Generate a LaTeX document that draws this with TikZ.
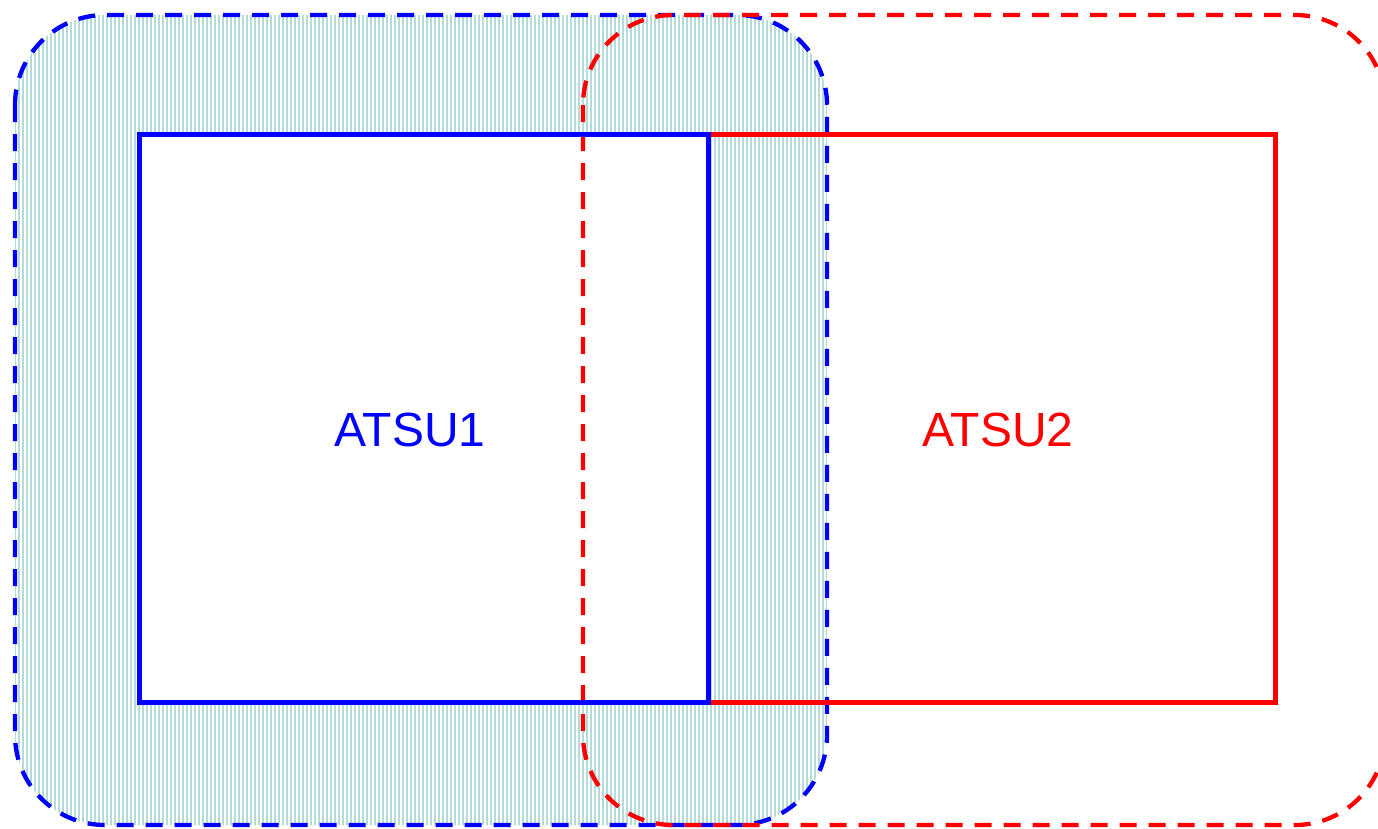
\documentclass[tikz,border=0pt]{standalone}
\usepackage{fontspec}
\setmainfont{Liberation Sans}
\definecolor{hatch}{HTML}{B4DADA}
\definecolor{myblue}{HTML}{0000FF}
\definecolor{myred}{HTML}{FF0000}
\tikzset{
  zone/.style={line width=4.3pt, dash pattern=on 17pt off 12pt, rounded corners=90pt},
  unitbox/.style={line width=5pt, outer sep=0pt},
  label/.style={font=\fontsize{48}{48}\selectfont, inner sep=0pt}
}
\begin{document}
\begin{tikzpicture}[x=1pt,y=-1pt]
\useasboundingbox (0,0) rectangle (1378,828);
\clip (0,0) rectangle (1378,828);
\fill[white] (0,0) rectangle (1378,828);
% hatch
\begin{scope}
  \clip[rounded corners=90pt] (15,15) rectangle (827,825);
  \foreach \x in {15,19,...,830} {
    \draw[hatch, line width=1.2pt] (\x,0) -- (\x,828);
  }
\end{scope}
\fill[white] (139,134) rectangle (708,702);
% zones
\draw[zone, myblue] (15,15) rectangle (827,825);
\draw[zone, myred] (583,15) rectangle (1385,825);
% units
\node[draw=myred, unitbox, minimum width=567pt, minimum height=568pt, anchor=north west] (atsu2) at (708,134) {};
\node[draw=myblue, unitbox, minimum width=569pt, minimum height=568pt, anchor=north west] (atsu1) at (139,134) {};
\node[label, text=myblue] (t1) at (410,430) {ATSU1};
\node[label, text=myred] (t2) at (998,430) {ATSU2};
\end{tikzpicture}
\end{document}
